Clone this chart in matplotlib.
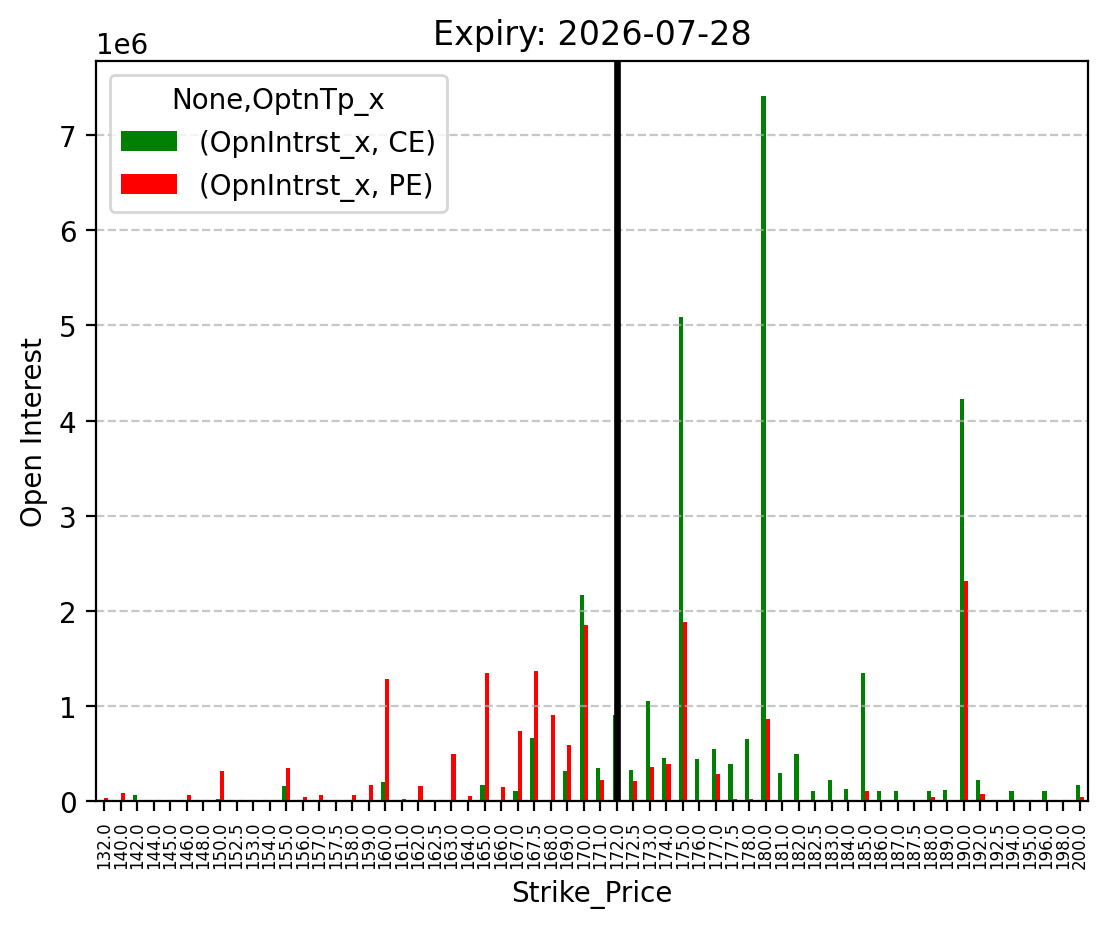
import matplotlib
matplotlib.use("Agg")
import matplotlib.pyplot as plt
import numpy as np

# strike prices (categories on the x axis)
strikes = [132.0, 140.0, 142.0, 144.0, 145.0, 146.0, 148.0, 150.0, 152.5, 153.0,
           154.0, 155.0, 156.0, 157.0, 157.5, 158.0, 159.0, 160.0, 161.0, 162.0,
           162.5, 163.0, 164.0, 165.0, 166.0, 167.0, 167.5, 168.0, 169.0, 170.0,
           171.0, 172.0, 172.5, 173.0, 174.0, 175.0, 176.0, 177.0, 177.5, 178.0,
           180.0, 181.0, 182.0, 182.5, 183.0, 184.0, 185.0, 186.0, 187.0, 187.5,
           188.0, 189.0, 190.0, 192.0, 192.5, 194.0, 195.0, 196.0, 198.0, 200.0]

# open interest, in millions
oi_ce = [0.0, 0.0, 0.067, 0.0, 0.0, 0.0, 0.0, 0.025, 0.0, 0.0,
         0.0, 0.16, 0.0, 0.0, 0.0, 0.0, 0.0, 0.20, 0.0, 0.0,
         0.0, 0.0, 0.0, 0.17, 0.014, 0.11, 0.66, 0.014, 0.32, 2.165,
         0.35, 0.90, 0.33, 1.05, 0.457, 5.09, 0.446, 0.55, 0.39, 0.65,
         7.41, 0.29, 0.49, 0.10, 0.225, 0.13, 1.35, 0.11, 0.11, 0.0,
         0.10, 0.12, 4.23, 0.225, 0.0, 0.10, 0.0, 0.10, 0.0, 0.17]
oi_pe = [0.035, 0.088, 0.0, 0.0, 0.0, 0.067, 0.0, 0.32, 0.0, 0.0,
         0.0, 0.35, 0.046, 0.067, 0.0, 0.067, 0.17, 1.28, 0.025, 0.16,
         0.0, 0.49, 0.056, 1.35, 0.15, 0.74, 1.37, 0.90, 0.59, 1.85,
         0.225, 0.0, 0.214, 0.36, 0.39, 1.88, 0.0, 0.28, 0.025, 0.025,
         0.86, 0.0, 0.0, 0.0, 0.0, 0.0, 0.11, 0.0, 0.014, 0.014,
         0.046, 0.0, 2.31, 0.077, 0.014, 0.0, 0.014, 0.0, 0.0, 0.046]

spot = 172.0
expiry = "2026-07-28"

x = np.arange(len(strikes))
w = 0.25

fig = plt.figure(figsize=(1109 / 200, 929 / 200), dpi=200)
ax = fig.add_axes([0.0866, 0.1367, 0.8944, 0.7966])

ax.bar(x - w / 2, np.array(oi_ce) * 1e6, width=w, color="green", label="(OpnIntrst_x, CE)")
ax.bar(x + w / 2, np.array(oi_pe) * 1e6, width=w, color="red", label="(OpnIntrst_x, PE)")
ax.axvline(strikes.index(spot), color="black", linewidth=2.4)

ax.set_xlim(-0.5, len(strikes) - 0.5)
ax.set_xticks(x)
ax.set_xticklabels([f"{s:.1f}" for s in strikes], rotation=90, fontsize=6)

ax.grid(axis="y", linestyle="--", alpha=0.7)
ax.set_title(f"Expiry: {expiry}", fontsize=12)
ax.set_xlabel("Strike_Price")
ax.set_ylabel("Open Interest")
ax.legend(title="None,OptnTp_x", loc="upper left")

fig.savefig("out.png", dpi=200)
